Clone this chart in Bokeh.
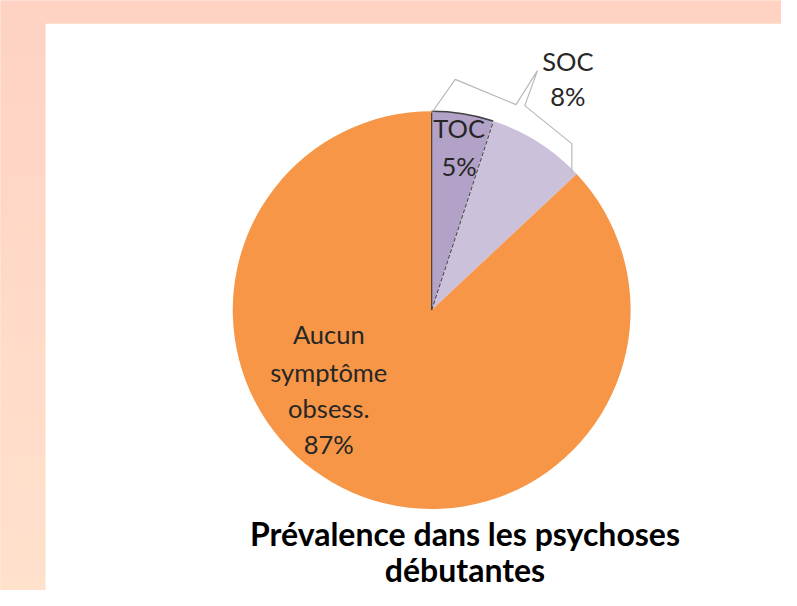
import numpy as np
from bokeh.plotting import figure
from bokeh.models import Range1d, ColumnDataSource
from bokeh.core.properties import value
from bokeh.embed import file_html
from bokeh.resources import INLINE

# ---- data ----
categories = ["TOC", "SOC", "Aucun symptôme obsess."]
label_lines = [["TOC"], ["SOC"], ["Aucun", "symptôme", "obsess."]]
values = [5, 8, 87]
colors = ["#B3A2C7", "#CCC1DA", "#F79646"]
title_lines = ["Prévalence dans les psychoses", "débutantes"]

W, H = 781, 590


def Y(yref):
    return 606 - yref


p = figure(width=W, height=H, x_range=Range1d(0, 797), y_range=Range1d(0, 606),
           output_backend="svg", toolbar_location=None, min_border=0,
           x_axis_location=None, y_axis_location=None)
p.grid.visible = False
p.outline_line_color = None
p.background_fill_color = "#FFD9C9"
p.border_fill_color = "#FFD9C9"

# background gradient (top salmon -> lighter bottom)
top_c = np.array([0xFF, 0xD2, 0xC3])
bot_c = np.array([0xFF, 0xE1, 0xCC])
n = 40
edges = np.linspace(0, 606, n + 1)
bl, br, bb, bt, bc = [], [], [], [], []
for i in range(n):
    t = (i + 0.5) / n
    c = (top_c * (1 - t) + bot_c * t).round().astype(int)
    bl.append(-5); br.append(805)
    bt.append(Y(edges[i]) + 0.5); bb.append(Y(edges[i + 1]) - 0.5)
    bc.append("#%02X%02X%02X" % tuple(c))
p.quad(left=bl, right=br, top=bt, bottom=bb, fill_color=bc, line_color=None)

# white panel
p.quad(left=[46], right=[810], top=[Y(24)], bottom=[-10], fill_color="white", line_color=None)

# pie
cx, cy, r = 440, Y(318), 203
fr = np.array(values, dtype=float) / sum(values)
cum = np.concatenate([[0], np.cumsum(fr)])
start = np.pi / 2 - 2 * np.pi * cum[:-1]
end = np.pi / 2 - 2 * np.pi * cum[1:]
src = ColumnDataSource(dict(cat=categories, val=values, start=start, end=end, color=colors))
p.wedge(x=cx, y=cy, radius=r, start_angle="start", end_angle="end", direction="clock",
        fill_color="color", line_color=None, source=src)

# TOC slice outline (selected look)
dark = "#404040"
p.line([cx, cx], [cy, cy + r], line_color=dark, line_width=1.2)
p.arc(x=cx, y=cy, radius=r, start_angle=start[0], end_angle=end[0], direction="clock",
      line_color=dark, line_width=1.6)
p.line([cx, cx + r * np.cos(end[0])], [cy, cy + r * np.sin(end[0])],
       line_color=dark, line_width=1, line_dash="4 2")

# SOC callout outline
cxs = [441, 464, 526, 548, 535, 583, 583]
cys = [114, 81, 107, 72, 108, 147, 177]
p.line(cxs, [Y(v) for v in cys], line_color="#B8B8B8", line_width=1.2)

# labels
font = value("Lato")
lab_pos = [(468, [131, 170]), (579, [62, 98]), (335, [343, 382, 419, 456])]
for i, (lx, ys) in enumerate(lab_pos):
    lines = label_lines[i] + [f"{values[i]}%"]
    p.text(x=[lx] * len(lines), y=[Y(v) for v in ys], text=lines, text_font=font,
           text_font_size="25.5px", text_align="center", text_baseline="middle",
           text_color="#262626")

# title
p.text(x=[474, 474], y=[Y(547), Y(584)], text=title_lines, text_font=font,
       text_font_style="bold", text_font_size="32px", text_align="center",
       text_baseline="middle", text_color="#000000")

open("out.html", "w").write(file_html(p, INLINE))
